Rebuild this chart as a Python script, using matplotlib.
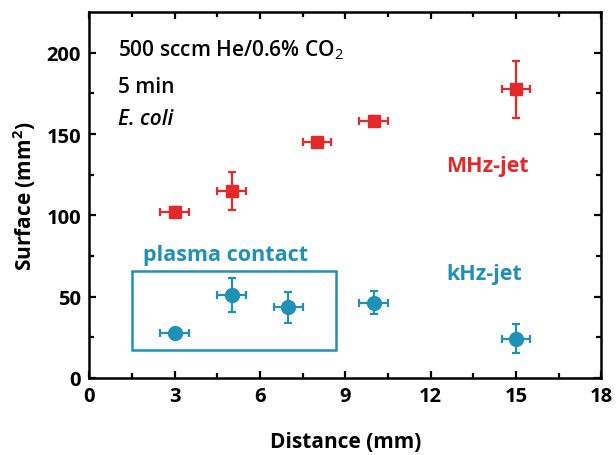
import matplotlib

matplotlib.use("Agg")
import matplotlib.pyplot as plt
from matplotlib.patches import Rectangle

plt.rcParams["font.family"] = ["Open Sans", "DejaVu Sans"]
plt.rcParams["mathtext.fontset"] = "custom"
plt.rcParams["mathtext.rm"] = "Open Sans"
plt.rcParams["mathtext.it"] = "Open Sans:italic"
plt.rcParams["mathtext.bf"] = "Open Sans:bold"

# distance (mm) and treated surface (mm^2)
mhz_x = [3, 5, 8, 10, 15]
mhz_y = [102, 115, 145, 158, 177.5]
mhz_yerr = [3, 11.5, 2.5, 3, 17.5]

khz_x = [3, 5, 7, 10, 15]
khz_y = [27.6, 51, 43.4, 46.4, 24.2]
khz_yerr = [2.5, 10.5, 9.5, 7, 9]

x_err = 0.5

red = "#E3292A"
blue = "#2190B7"

fig = plt.figure(figsize=(6.16, 4.56), dpi=100)
ax = fig.add_axes([0.145, 0.169, 0.831, 0.802])

ax.errorbar(mhz_x, mhz_y, xerr=x_err, yerr=mhz_yerr, fmt="s", color=red,
            ms=9, elinewidth=1.6, capsize=3, capthick=1.6)
ax.errorbar(khz_x, khz_y, xerr=x_err, yerr=khz_yerr, fmt="o", color=blue,
            ms=10, elinewidth=1.6, capsize=3, capthick=1.6)

ax.add_patch(Rectangle((1.5, 17), 7.17, 49, fill=False, ec=blue, lw=1.8))

ax.set_xlim(0, 18)
ax.set_ylim(0, 225)
ax.set_xticks(range(0, 19, 3))
ax.set_xticks([x + 1.5 for x in range(0, 18, 3)], minor=True)
ax.set_yticks(range(0, 201, 50))
ax.set_yticks(range(25, 225, 50), minor=True)
ax.tick_params(which="both", direction="in", top=True, right=True,
               width=1.6, labelsize=14.5)
ax.tick_params(which="major", length=5, pad=6)
ax.tick_params(which="minor", length=3.5)
for lab in ax.get_xticklabels() + ax.get_yticklabels():
    lab.set_fontweight("bold")
for s in ax.spines.values():
    s.set_linewidth(1.8)

ax.set_xlabel("Distance (mm)", fontsize=15, fontweight="bold", labelpad=18)
ax.set_ylabel("Surface (mm$^\\mathbf{2}$)", fontsize=15, fontweight="bold",
              labelpad=6)

ax.text(1.0, 202, "500 sccm He/0.6% CO$_2$", fontsize=15,
        fontweight="semibold", va="center")
ax.text(1.0, 179.5, "5 min", fontsize=15, fontweight="semibold", va="center")
ax.text(1.0, 159.5, "E. coli", fontsize=15, fontweight="semibold",
        style="italic", va="center")
ax.text(14.0, 130.5, "MHz-jet", fontsize=15.5, fontweight="bold", color=red,
        ha="center", va="center")
ax.text(13.9, 64, "kHz-jet", fontsize=15.5, fontweight="bold", color=blue,
        ha="center", va="center")
ax.text(1.9, 76, "plasma contact", fontsize=15.5, fontweight="bold",
        color=blue, va="center")

fig.savefig("out.png", dpi=100)
